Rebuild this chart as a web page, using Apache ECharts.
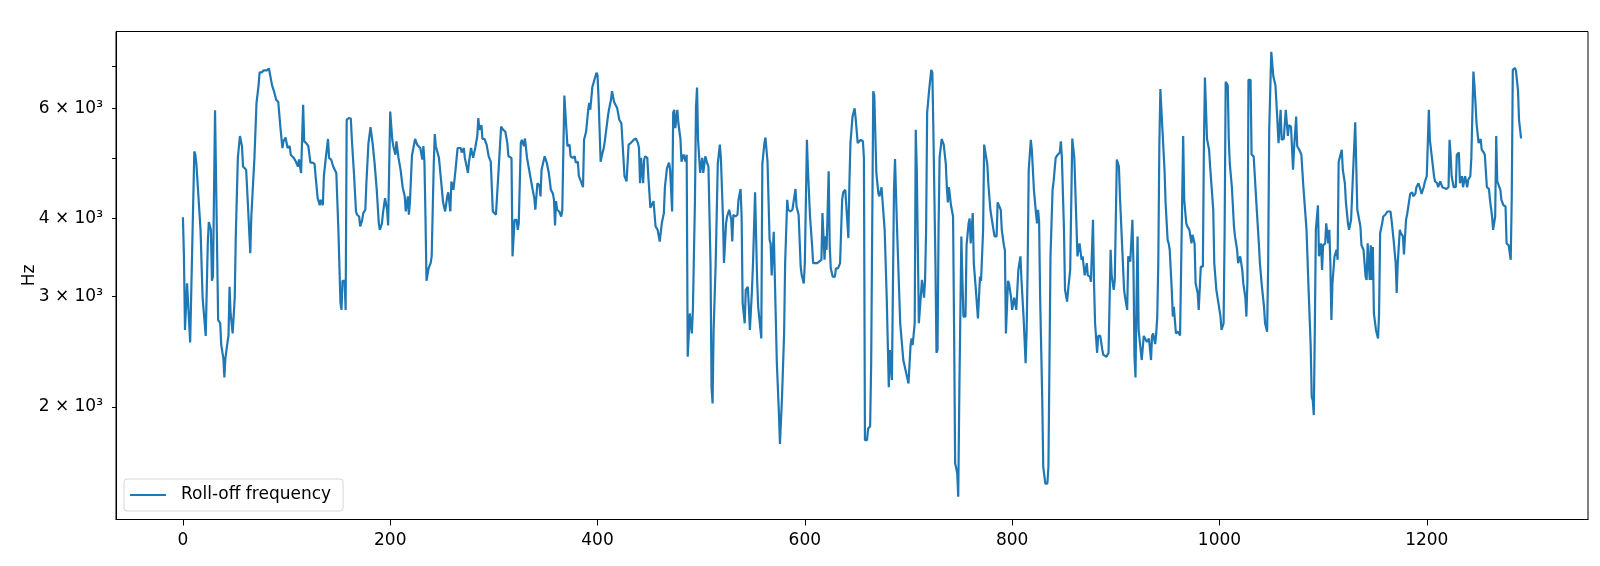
<!DOCTYPE html>
<html>
<head>
<meta charset="utf-8">
<script src="https://cdn.jsdelivr.net/npm/echarts@6/dist/echarts.min.js"></script>
<style>html,body{margin:0;padding:0;background:#fff}#c{width:1600px;height:566px}</style>
</head>
<body>
<div id="c"></div>
<script>
// Frame index (x) and roll-off frequency in Hz (y)
const frameIndex = [0,1,2,3,4,5,7,8,11,12,13,17,19,22,24,25,27,28,29,31,34,36,37,39,40,41,43,44,45,46,48,50,51,53,54,55,57,58,61,62,65,66,69,71,73,74,76,78,79,81,83,86,88,90,92,94,96,97,99,101,103,104,107,109,111,112,114,116,117,119,121,123,125,127,128,130,132,133,135,136,138,140,141,143,145,148,150,152,153,154,156,157,158,160,162,163,165,167,168,170,171,173,174,176,177,179,181,183,185,187,189,190,192,193,195,197,198,200,202,203,205,206,208,210,212,214,215,217,218,219,221,224,226,229,231,232,233,234,235,237,239,240,242,243,244,247,249,251,253,255,256,258,259,261,263,265,268,269,271,272,275,276,278,280,282,284,285,286,288,289,291,293,295,297,299,300,302,304,307,309,311,313,314,317,318,320,322,323,324,326,327,329,330,332,334,337,339,340,342,344,345,346,349,351,353,355,357,358,359,360,361,363,365,366,368,370,371,373,374,376,378,379,381,382,384,386,387,389,391,392,393,395,397,399,400,401,403,404,406,407,410,411,413,414,416,419,421,423,425,426,428,430,432,435,437,439,440,441,442,444,445,446,448,449,451,452,454,456,458,460,462,464,465,467,469,470,472,473,474,475,477,478,480,481,483,485,486,487,488,489,491,492,494,495,496,497,499,501,502,504,506,507,509,510,511,512,514,516,518,519,521,522,524,525,527,529,530,531,533,535,536,538,539,540,542,543,545,546,547,549,550,552,554,555,558,559,561,562,564,566,567,568,570,571,573,575,576,578,580,581,583,584,586,588,589,591,592,594,596,597,599,600,602,603,605,607,608,610,612,614,616,617,619,620,621,623,624,625,627,629,630,632,634,636,637,639,640,642,643,644,646,648,649,651,652,654,656,657,658,660,661,663,664,666,667,669,671,672,674,675,677,679,681,682,684,686,687,689,692,695,700,702,703,704,706,707,708,710,711,713,715,716,717,718,720,722,723,724,726,727,728,729,730,732,734,736,737,738,739,741,743,744,745,747,748,749,751,752,753,755,756,758,759,760,762,763,765,767,769,770,772,773,774,776,777,779,781,783,785,786,789,790,792,793,794,796,797,799,800,802,804,805,806,808,809,811,813,814,815,816,818,819,821,823,824,825,826,827,829,830,832,834,835,836,837,839,840,842,844,846,847,848,850,851,853,854,856,858,859,860,862,863,865,867,868,870,872,873,875,876,878,879,880,882,883,885,887,888,891,893,895,896,898,899,901,903,904,906,908,909,911,912,914,916,917,918,919,920,921,922,924,925,927,928,930,932,934,935,936,938,939,940,941,942,943,945,947,948,950,951,952,954,955,956,958,960,961,962,964,965,966,968,969,971,973,974,976,977,979,980,981,982,984,985,986,987,988,990,991,994,995,997,998,999,1001,1002,1004,1005,1006,1008,1009,1010,1012,1014,1015,1017,1018,1020,1022,1023,1025,1026,1027,1028,1030,1031,1033,1034,1036,1038,1039,1041,1043,1044,1046,1047,1048,1050,1051,1052,1054,1055,1057,1059,1060,1062,1063,1064,1066,1067,1069,1070,1071,1072,1074,1075,1077,1079,1081,1084,1086,1088,1089,1090,1091,1092,1093,1095,1096,1098,1099,1100,1102,1103,1105,1106,1107,1108,1109,1111,1113,1114,1115,1116,1118,1119,1121,1122,1124,1125,1127,1129,1131,1133,1134,1136,1137,1139,1141,1142,1143,1145,1146,1147,1148,1149,1151,1153,1154,1155,1157,1158,1160,1162,1165,1166,1168,1170,1171,1172,1174,1175,1177,1178,1180,1181,1182,1184,1186,1187,1189,1190,1192,1194,1195,1197,1198,1200,1202,1203,1205,1207,1208,1210,1211,1213,1215,1216,1219,1221,1222,1223,1224,1226,1228,1229,1231,1232,1234,1235,1237,1239,1240,1242,1243,1245,1246,1247,1248,1250,1252,1253,1255,1256,1258,1260,1261,1263,1264,1266,1267,1268,1269,1271,1272,1274,1276,1277,1279,1281,1282,1283,1285,1286,1288,1289,1291];
const rolloffHz = [4020,3480,2654,2650,3150,3150,2535,2535,5120,5060,4890,3837,2990,2596,3650,3950,3837,3180,3230,5960,2754,2720,2510,2392,2229,2392,2535,2600,3110,2820,2620,2990,3745,5000,5030,5420,5220,4843,4786,4446,3520,4030,5000,6120,6530,6850,6850,6900,6850,6900,6950,6530,6380,6193,6140,5610,5185,5315,5390,5185,5220,5060,5000,4930,4843,4970,4730,6080,5315,5280,5220,4915,4915,4890,4674,4312,4200,4285,4200,4674,5030,5360,5000,4970,4843,4730,3837,2930,2857,3180,3180,2857,5753,5790,5780,5345,4730,4105,4056,4030,3885,3981,4080,4131,4555,5280,5600,5280,4890,4446,3930,3837,3930,4080,4312,4131,3900,5930,5345,5220,5060,5315,5000,4786,4488,4340,4105,4340,4056,4246,5050,5360,5250,5185,4970,5220,4930,4030,3180,3330,3395,3480,4890,5460,5220,5000,4613,4246,4105,4340,4405,4105,4585,4446,4786,5185,5185,5100,5185,5000,4730,4930,5185,5000,5185,5420,5790,5545,5640,5360,5360,5250,5030,4930,4105,4105,4056,4613,5610,5545,5510,5280,5030,5000,3480,3981,3981,3837,3930,5280,5345,5220,5370,5000,4786,4488,4312,4131,4555,4520,4340,4786,5030,4915,4730,4446,4380,4285,3900,4265,4131,4105,4030,4131,6290,5545,5220,5250,5030,5000,5030,4915,4930,4674,4585,4488,5345,5510,5969,6120,5969,6490,6665,6840,6780,6220,4930,5030,5185,5315,5820,5969,6193,6390,6140,6000,5753,5680,5000,4674,4585,5250,5280,5345,5370,5280,5185,4555,5000,4555,4970,5030,5000,4674,4160,4180,4265,3885,3837,3675,3930,4080,4488,4815,4915,4786,4105,5905,5969,5580,5969,5680,5360,4930,5060,4930,5060,2405,2392,2820,2620,2857,4285,6030,6480,5345,4730,5000,4730,5030,4890,4843,3395,2150,2025,2654,3395,4890,5250,5000,4030,3395,3930,4030,4131,3981,3675,4056,4030,4056,4285,4460,4030,2930,2720,3076,3110,2890,2654,3076,3395,4405,3180,2890,2572,4890,5280,5390,4930,3698,3650,3245,3810,3245,2348,1952,1745,2075,2620,3395,4285,4131,4105,4131,4131,4460,4180,4056,3350,3245,3150,3395,5345,4786,4030,3625,3395,3395,3395,3415,3436,4080,3436,3745,3565,4758,3625,3330,3225,3230,3330,3330,3395,4285,4405,4446,4446,3722,4555,5280,5820,6000,5790,5280,5315,5345,5315,5000,1769,1769,1845,1862,2348,6390,6290,4730,4380,4340,4488,4488,3837,2990,2150,2465,2207,4446,4980,3837,2720,2376,2180,2510,2572,2510,2720,5545,4786,2720,2720,3191,2990,3191,3837,5905,6440,6914,6850,5545,3395,2440,2465,3837,5000,5360,5250,4890,4488,4246,4488,4200,4030,2654,1625,1568,1436,2075,3745,3191,2788,2788,3625,3930,4000,3650,4080,3395,3076,2770,3230,3180,3837,5250,5250,4890,4555,4131,3930,3745,3745,4246,4131,3837,3625,3565,2620,3180,3150,2990,2857,2990,2857,3076,3311,3480,3191,2788,2348,2654,3395,4786,5345,5152,4446,4080,3930,4131,3960,2990,2075,1605,1508,1508,1605,2348,3480,4446,4585,5000,5060,5100,5315,5000,3837,3076,2946,3076,3311,5370,5360,5000,3930,3480,3650,3436,3480,3245,3395,3245,3230,3170,3981,3150,2720,2440,2596,2596,2465,2422,2405,2440,3565,3245,3076,3191,4970,4843,4340,3650,3076,2990,2857,3480,3415,3981,3395,2405,2229,2990,3745,2654,2465,2376,2596,2600,2540,2572,2376,2596,2620,2520,2620,2788,3395,5220,6440,5545,4786,4246,3698,3650,3565,3076,2788,2890,2620,2637,2637,2600,4246,5420,4285,3930,3885,3837,3650,3767,3650,3150,3040,2857,2840,3350,3350,5220,6720,6700,5360,5152,4843,4131,3395,3076,3076,2930,2788,2654,2720,3837,6615,6530,5345,4890,4488,3885,3745,3565,3395,3480,3311,3150,2990,2788,3191,6665,6665,5060,5030,5000,4131,3650,3395,3110,2890,2720,2637,3395,5545,7390,7390,6745,6530,6120,5280,5969,5345,5360,5345,5969,5420,5640,5610,5185,4786,5185,5820,5220,5152,5060,4488,3837,3076,2510,2075,2050,1940,2654,3837,4200,3480,3650,3311,3625,3650,3930,3650,3837,3395,2754,3150,3480,3565,3436,4930,5000,5152,4786,4555,4246,3930,3837,3981,4786,5700,4131,4105,3885,3625,3565,3230,3191,3650,3191,3625,3191,3600,2820,2654,2572,2820,3790,3930,4030,4056,4105,4105,3981,3698,3395,3040,3395,3837,3790,3745,3505,3981,4056,4056,4380,4405,4340,4380,4488,4555,4446,4380,4488,4568,4674,5969,5345,5000,4674,4585,4555,4488,4585,4488,4460,4460,4488,5345,5060,4674,4488,4488,5060,5100,4555,4674,4488,4674,4488,4613,4674,5000,6870,6530,6120,5680,5280,5360,5152,5100,5060,4488,4460,4285,4030,3837,4030,5420,4585,4555,4446,4285,4200,4180,3650,3625,3436,4340,6914,6960,6900,6425,5753,5370];
const xTickValues = [0, 200, 400, 600, 800, 1000, 1200];
const yLabelValues = [2000, 3000, 4000, 6000];
const yTickValues = [2000, 3000, 4000, 5000, 6000, 7000];
const seriesName = 'Roll-off frequency';
const yAxisName = 'Hz';

const FONT = 'DejaVu Sans';
const FS = 17;
const points = frameIndex.map((x, k) => [x, rolloffHz[k]]);
const chart = echarts.init(document.getElementById('c'), null, {renderer: 'canvas'});
chart.setOption({
  animation: false,
  backgroundColor: '#ffffff',
  textStyle: {fontFamily: FONT},
  grid: {left: 116, right: 12, top: 31.5, bottom: 46.5, show: true, borderColor: '#000', borderWidth: 1, backgroundColor: 'transparent'},
  legend: {
    left: 124, top: 479,
    padding: [7, 12, 7, 6],
    backgroundColor: '#fff', borderColor: '#d6d6d6', borderWidth: 1, borderRadius: 3,
    itemWidth: 36, itemHeight: 2.2,
    textStyle: {fontFamily: FONT, fontSize: FS, color: '#000', padding: [0, 0, 0, 10], lineHeight: 18},
    data: [{name: seriesName, icon: 'rect', itemStyle: {color: '#1f77b4'}}]
  },
  xAxis: {
    type: 'value', min: -64.55, max: 1355.55,
    axisLine: {show: true, onZero: false, lineStyle: {color: '#000', width: 1}},
    axisTick: {show: true, length: 6, lineStyle: {color: '#000'}, customValues: xTickValues},
    axisLabel: {show: true, margin: 13, fontFamily: FONT, fontSize: FS, color: '#000', customValues: xTickValues,
      formatter: v => String(Math.round(v))},
    splitLine: {show: false}
  },
  yAxis: {
    type: 'log', logBase: 10, min: 1321, max: 7962,
    name: yAxisName, nameLocation: 'middle', nameGap: 78, nameRotate: 90, nameMoveOverlap: false,
    nameTextStyle: {fontFamily: FONT, fontSize: FS, color: '#000'},
    axisLine: {show: true, onZero: false, lineStyle: {color: '#000', width: 1}},
    axisTick: {show: true, length: 4, lineStyle: {color: '#000'}, customValues: yTickValues},
    axisLabel: {show: true, margin: 13, fontFamily: FONT, fontSize: FS, color: '#000', customValues: yLabelValues,
      formatter: v => Math.round(v / 1000) + ' \u00d7 10\u00b3'},
    splitLine: {show: false}
  },
  series: [{
    name: seriesName, type: 'line', data: points,
    symbol: 'none', showSymbol: false,
    lineStyle: {color: '#1f77b4', width: 2.2},
    itemStyle: {color: '#1f77b4'},
    clip: true
  }]
});
</script>
</body>
</html>
